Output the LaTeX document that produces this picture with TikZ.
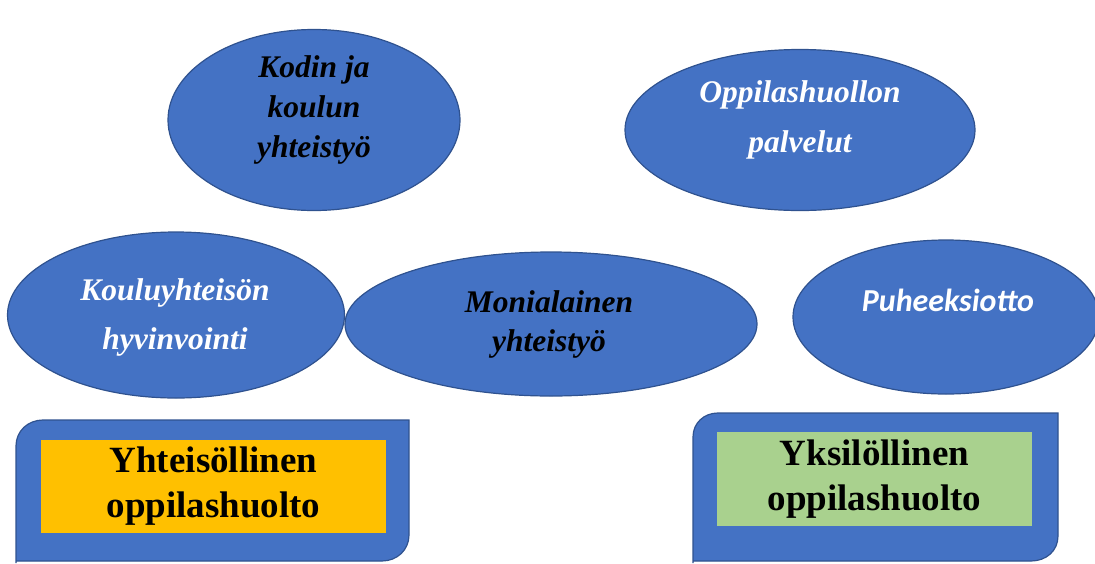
\documentclass[tikz,border=0pt]{standalone}
\usepackage{fontspec}
\setmainfont{Liberation Serif}
\newfontfamily\calibrifont{Carlito}
\usetikzlibrary{shapes.geometric}
\definecolor{ovalblue}{HTML}{4472C4}
\definecolor{ovaledge}{HTML}{2F528F}
\definecolor{boxorange}{HTML}{FFC000}
\definecolor{boxgreen}{HTML}{A9D18E}
\begin{document}
\begin{tikzpicture}[
		x=1pt, y=-1pt,
		oval/.style = {
			ellipse,
			draw=ovaledge,
			fill=ovalblue,
			line width=1.2pt,
			inner sep=0pt
		},
		ovaltext/.style = {
			align=center,
			inner sep=0pt,
			font=\fontsize{31.5}{40}\selectfont\bfseries\itshape
		},
		frame/.style = {
			draw=ovaledge,
			fill=ovalblue,
			line width=1.2pt
		},
		tagbox/.style = {
			align=center,
			inner sep=0pt,
			font=\fontsize{37}{45}\selectfont\bfseries
		}
	]
	\useasboundingbox (0,0) rectangle (1095,563);
	\clip (0,0) rectangle (1095,563);
	% ovals
	\node[oval, minimum width=292pt, minimum height=181pt] (kodin) at (314,120) {};
	\node[oval, minimum width=350pt, minimum height=161pt] (palvelut) at (800,130) {};
	\node[oval, minimum width=337pt, minimum height=166pt] (hyvinvointi) at (176,315) {};
	\node[oval, minimum width=412pt, minimum height=144pt] (monialainen) at (551,324) {};
	\node[oval, minimum width=306pt, minimum height=154pt] (puheeksi) at (946,317) {};
	\node[ovaltext] (kodin-txt) at (314,110) {Kodin ja\\koulun\\yhteistyö};
	\node[ovaltext, text=white, font=\fontsize{31.5}{50}\selectfont\bfseries\itshape] (palvelut-txt) at (800,120) {Oppilashuollon\\palvelut};
	\node[ovaltext, text=white, font=\fontsize{31.5}{49}\selectfont\bfseries\itshape] (hyvinvointi-txt) at (175,317) {Kouluyhteisön\\hyvinvointi};
	\node[ovaltext, font=\fontsize{31.5}{39}\selectfont\bfseries\itshape] (monialainen-txt) at (549,324) {Monialainen\\yhteistyö};
	\node[ovaltext, text=white, font=\fontsize{32}{36}\selectfont\calibrifont\bfseries\itshape] (puheeksi-txt) at (948,300) {Puheeksiotto};
	% bottom boxes
	\draw[frame] (16,563) -- (16,446) .. controls (16,431) and (28,420) .. (43,420) -- (409,420) -- (409,535) .. controls (409,550) and (397,561) .. (382,561) -- (16,561) -- cycle;
	\draw[frame] (693,563) -- (693,437) .. controls (693,423) and (704,413) .. (718,413) -- (1058,413) -- (1058,536) .. controls (1058,551) and (1046,561) .. (1031,561) -- (693,561) -- cycle;
	\node[tagbox, fill=boxorange, minimum width=345pt, minimum height=93pt] (yhteis) at (213.5,486.5) {Yhteisöllinen\\oppilashuolto};
	\node[tagbox, fill=boxgreen, minimum width=315pt, minimum height=94pt] (yksil) at (874.5,479) {Yksilöllinen\\oppilashuolto};
\end{tikzpicture}
\end{document}
